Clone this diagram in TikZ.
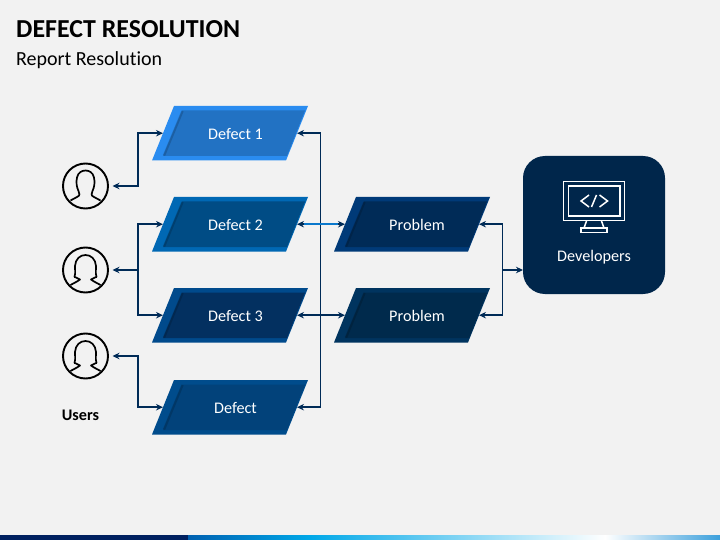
\documentclass[tikz,border=0pt]{standalone}
\usepackage{fontspec}
\setmainfont[Ligatures=NoCommon]{Carlito}
\usetikzlibrary{arrows.meta,calc}
\definecolor{bgc}{HTML}{F2F2F2}
\definecolor{linec}{HTML}{002B57}
\definecolor{linel}{HTML}{0A78CC}
\definecolor{devc}{HTML}{00264B}
\definecolor{dAb}{HTML}{2A8CF0}\definecolor{dAf}{HTML}{2272C3}
\definecolor{dBb}{HTML}{0068B4}\definecolor{dBf}{HTML}{004C85}
\definecolor{dCb}{HTML}{004A8C}\definecolor{dCf}{HTML}{033060}
\definecolor{dDb}{HTML}{004C8C}\definecolor{dDf}{HTML}{02427A}
\definecolor{pAb}{HTML}{003A78}\definecolor{pAf}{HTML}{002B57}
\definecolor{pBb}{HTML}{00345F}\definecolor{pBf}{HTML}{002A4C}
\definecolor{barA}{HTML}{002060}\definecolor{barB}{HTML}{0060B0}
\definecolor{barC}{HTML}{00A8E8}\definecolor{barD}{HTML}{3CA0DC}
\tikzset{
  x=1pt,y=-1pt,
  anchorbox/.style={minimum width=134pt,minimum height=54pt,inner sep=0pt,outer sep=0pt},
  boxtext/.style={text=white,font=\fontsize{16.2}{19}\selectfont,inner sep=0pt},
  tipped/.style={{Stealth[length=7pt,width=6.5pt]}-{Stealth[length=7pt,width=6.5pt]}},
  link/.style={draw=linec,line width=1.9pt,tipped},
  tiplink/.style={draw=linec,line width=1.9pt,-{Stealth[length=7pt,width=6.5pt]}},
  usercircle/.style={circle,draw=black,line width=1.9pt,minimum size=45pt,inner sep=0pt,outer sep=0pt},
  usershape/.style={draw=black,line width=1.7pt,line join=round},
  icon/.style={draw=white,line width=1.5pt},
}
% \para{name}{left x of bottom}{top y}{border}{face}{text}{text x}
\newcommand{\para}[7]{%
  \fill[#4] (#2+22,#3) -- (#2+156,#3) -- (#2+134,#3+54.5) -- (#2,#3+54.5) -- cycle;
  \fill[#5] (#2+30,#3+4.5) -- (#2+153,#3+4.5) -- (#2+135,#3+50) -- (#2+11,#3+50) -- cycle;
  \draw[black,opacity=.16,line width=2.4pt] (#2+30.5,#3+5) -- (#2+12,#3+49.5);
  \node[anchorbox] (#1) at (#2+78,#3+27.2) {};
  \node[boxtext] (#1-t) at (#7,#3+27.7) {#6};
}
\begin{document}
\begin{tikzpicture}
\useasboundingbox (0,0) rectangle (720,540);
\fill[bgc] (0,0) rectangle (720,540);
% bottom band
\fill[left color=barB,right color=barC] (188,535) rectangle (310,540);
\fill[left color=barC,right color=white] (310,535) rectangle (605,540);
\fill[left color=white,right color=barD] (605,535) rectangle (720,540);
\fill[barA] (0,535) rectangle (188,540);
% titles
\node[anchor=west,inner sep=0pt,font=\fontsize{25.9}{30}\selectfont\bfseries,text=black] (title) at (16,28.7) {DEFECT RESOLUTION};
\node[anchor=west,inner sep=0pt,font=\fontsize{20}{24}\selectfont,text=black] (sub) at (16,60.5) {Report Resolution};
% parallelograms
\para{d1}{152}{106}{dAb}{dAf}{Defect 1}{235.5}
\para{d2}{152}{197}{dBb}{dBf}{Defect 2}{235.5}
\para{d3}{152}{288}{dCb}{dCf}{Defect 3}{235.5}
\para{d4}{152}{380}{dDb}{dDf}{Defect}{235.5}
\para{p1}{334}{197}{pAb}{pAf}{Problem}{417}
\para{p2}{334}{288}{pBb}{pBf}{Problem}{417}
% developers
\node[fill=devc,rounded corners=22pt,minimum width=142pt,minimum height=138pt,inner sep=0pt,outer sep=0pt] (dev) at (594,225) {};
\node[boxtext] (devt) at (594,257) {Developers};
% monitor icon
\draw[icon] (563.5,181.5) rectangle (624.5,220.5);
\draw[icon] (568.5,186) rectangle (620,216);
\draw[icon] (586.5,221) -- (584,228) (601.5,221) -- (604,228);
\draw[icon] (581,228) rectangle (607,232.5);
\draw[icon] (589,195) -- (581,201) -- (589,207);
\draw[icon] (596.5,195) -- (591.5,207);
\draw[icon] (599.5,195) -- (607.5,201) -- (599.5,207);
% users
\node[usercircle] (u1) at (85.5,186) {};
\node[usercircle] (u2) at (85.5,270) {};
\node[usercircle] (u3) at (85.5,356) {};
\node[inner sep=0pt,font=\fontsize{16.2}{19}\selectfont\bfseries,text=black] (users) at (80.5,415) {Users};
\draw[usershape] (70.5,200.5) -- (77,197) .. controls (80.5,195.5) and (79.5,193.5) .. (78.5,191) .. controls (76.5,187) and (76,182) .. (77,177.5) .. controls (78,172.5) and (82,170.5) .. (85.5,170.5) .. controls (89,170.5) and (93,172.5) .. (94,177.5) .. controls (95,182) and (94.5,187) .. (92.5,191) .. controls (91.5,193.5) and (90.5,195.5) .. (94,197) -- (100.5,200.5);
\foreach \uy in {270,356}{
\draw[usershape] (70.5,\uy+15) -- (77,\uy+11.5) -- (80,\uy+9.5) -- (76,\uy+7.5) -- (74.5,\uy+7) .. controls (76,\uy+2) and (74.5,\uy-1) .. (75,\uy-4) .. controls (75.5,\uy-11) and (80,\uy-15) .. (85.5,\uy-15) .. controls (91,\uy-15) and (95.5,\uy-11) .. (96,\uy-4) .. controls (96.5,\uy-1) and (95,\uy+2) .. (96.5,\uy+7) -- (95,\uy+7.5) -- (91,\uy+9.5) -- (94,\uy+11.5) -- (100.5,\uy+15);
}
% junction coordinates
\coordinate (busL) at (138,270);
\coordinate (busM) at (320.5,270);
\coordinate (busR) at (502.5,270);
% connectors
\draw[link] ([xshift=4.5pt]u1.east) -- (u1.east -| busL) |- (d1.west);
\draw[link] ([xshift=4.5pt]u2.east) -- (busL) |- (d2.west);
\draw[tiplink] (busL) |- (d3.west);
\draw[link] ([xshift=4.5pt]u3.east) -- (u3.east -| busL) |- (d4.west);
\draw[link] (d1.east) -- (d1.east -| busM) -- (d4.east -| busM) -- (d4.east);
\draw[link] (d2.east) -- (p1.west);
\draw[draw=linel,line width=1.5pt,shorten <=7pt,shorten >=7pt] (d2.east) -- (p1.west);
\draw[link] (d3.east) -- (p2.west);
\draw[link] (p1.east) -- (p1.east -| busR) -- (p2.east -| busR) -- (p2.east);
\draw[tiplink] (busR) -- (busR -| dev.west);
\end{tikzpicture}
\end{document}
